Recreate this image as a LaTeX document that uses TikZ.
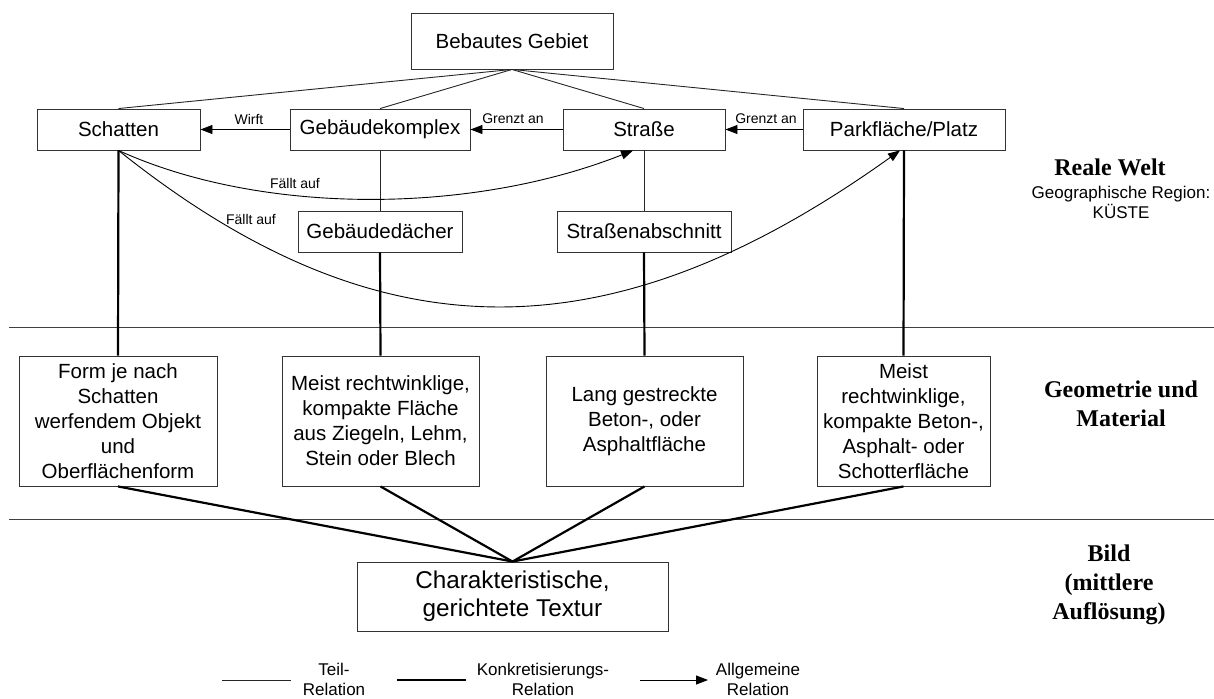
\documentclass[tikz,border=0pt]{standalone}
\usepackage{fontspec}
\setmainfont{Liberation Sans}
\newfontfamily\lserif{Liberation Serif}
\usetikzlibrary{arrows.meta}
\begin{document}
\begin{tikzpicture}[x=1pt,y=-1pt,
  box/.style={draw=black!80, line width=0.9pt, inner sep=0pt, align=center, font=\fontsize{20.5}{25}\selectfont},
  part/.style={draw=black!85, line width=0.9pt},
  conc/.style={draw=black, line width=2.2pt},
  rel/.style={draw=black, line width=0.9pt, -{Triangle[length=12pt,width=9pt]}},
  lbl/.style={font=\fontsize{14}{16}\selectfont, inner sep=0pt},
  sep/.style={draw=black!75, line width=1pt},
  side/.style={font=\lserif\bfseries\fontsize{24}{29}\selectfont, align=center, inner sep=0pt},
  sub/.style={font=\fontsize{17}{20}\selectfont, align=center, inner sep=0pt},
  leg/.style={font=\fontsize{17}{20}\selectfont, align=center, inner sep=0pt}
]
\useasboundingbox (0,0) rectangle (1214,698);

% separators
\coordinate (s1a) at (9,327); \coordinate (s1b) at (1214,327);
\coordinate (s2a) at (9,519); \coordinate (s2b) at (1214,519);
\draw[sep] (s1a) -- (s1b);
\draw[sep] (s2a) -- (s2b);

% top level
\node[box, minimum width=202pt, minimum height=56pt] (bebaut) at (512,41) {Bebautes Gebiet};

% second row
\node[box, minimum width=163pt, minimum height=41pt] (schatten) at (118.5,129.5) {Schatten};
\node[box, minimum width=180pt, minimum height=41pt] (komplex) at (380,129.5) {Gebäudekomplex};
\node[box, minimum width=162pt, minimum height=41pt] (strasse) at (644,129.5) {Straße};
\node[box, minimum width=202pt, minimum height=41pt] (park) at (904,129.5) {Parkfläche/Platz};

% third row
\node[box, minimum width=164pt, minimum height=41pt] (daecher) at (380,231.5) {Gebäudedächer};
\node[box, minimum width=174pt, minimum height=41pt] (abschnitt) at (644,231.5) {Straßenabschnitt};

% geometry row
\node[box, minimum width=198pt, minimum height=130pt] (form) at (118,421) {Form je nach\\Schatten\\werfendem Objekt\\und\\Oberflächenform};
\node[box, minimum width=197pt, minimum height=130pt] (meist) at (380.5,421) {Meist rechtwinklige,\\kompakte Fläche\\aus Ziegeln, Lehm,\\Stein oder Blech};
\node[box, minimum width=197pt, minimum height=130pt] (lang) at (644.5,421) {Lang gestreckte\\Beton-, oder\\Asphaltfläche};
\node[box, minimum width=173pt, minimum height=130pt] (schotter) at (903.5,421) {Meist\\rechtwinklige,\\kompakte Beton-,\\Asphalt- oder\\Schotterfläche};

% image level
\node[box, minimum width=311pt, minimum height=69pt, font=\fontsize{24.3}{28}\selectfont] (char) at (512.5,596.5) {Charakteristische,\\gerichtete Textur};

% part relations
\draw[part] (bebaut.south) -- (schatten.north);
\draw[part] (bebaut.south) -- (komplex.north);
\draw[part] (bebaut.south) -- (strasse.north);
\draw[part] (bebaut.south) -- (park.north);
\draw[part] (komplex.south) -- (daecher.north);
\draw[part] (strasse.south) -- (abschnitt.north);

% general relations
\draw[rel] (komplex.west) -- (schatten.east);
\draw[rel] (strasse.west) -- (komplex.east);
\draw[rel] (park.west) -- (strasse.east);
\node[lbl] (wirft) at (249,119) {Wirft};
\node[lbl] (grenzt1) at (513,119) {Grenzt an};
\node[lbl] (grenzt2) at (766,119) {Grenzt an};

\draw[rel] (schatten.south) .. controls (260,215) and (470,215) .. ([xshift=-11pt]strasse.south);
\draw[rel] (schatten.south) .. controls (378,358) and (610,358) .. ([xshift=-4pt]park.south);
\node[lbl] (faellt1) at (295,183) {Fällt auf};
\node[lbl] (faellt2) at (251,219) {Fällt auf};

% concretisation relations
\draw[conc] (schatten.south) -- (form.north);
\draw[conc] (daecher.south) -- (meist.north);
\draw[conc] (abschnitt.south) -- (lang.north);
\draw[conc] (park.south) -- (schotter.north);
\draw[conc] (form.south) -- (char.north);
\draw[conc] (meist.south) -- (char.north);
\draw[conc] (lang.south) -- (char.north);
\draw[conc] (schotter.south) -- (char.north);

% side labels
\node[side] (reale) at (1110,167) {Reale Welt};
\node[sub] (region) at (1121,202) {Geographische Region:\\KÜSTE};
\node[side] (geom) at (1121,403.5) {Geometrie und\\Material};
\node[side] (bild) at (1109,584.5) {Bild\\(mittlere\\Auflösung)};

% legend
\coordinate (l1a) at (222,680); \coordinate (l1b) at (291,680);
\coordinate (l2a) at (397,680); \coordinate (l2b) at (466,680);
\coordinate (l3a) at (640,680); \coordinate (l3b) at (708,680);
\draw[part] (l1a) -- (l1b);
\draw[conc] (l2a) -- (l2b);
\draw[rel] (l3a) -- (l3b);
\node[leg] (l1t) at (334,679) {Teil-\\Relation};
\node[leg] (l2t) at (543,679) {Konkretisierungs-\\Relation};
\node[leg] (l3t) at (758,679) {Allgemeine\\Relation};
\end{tikzpicture}
\end{document}
